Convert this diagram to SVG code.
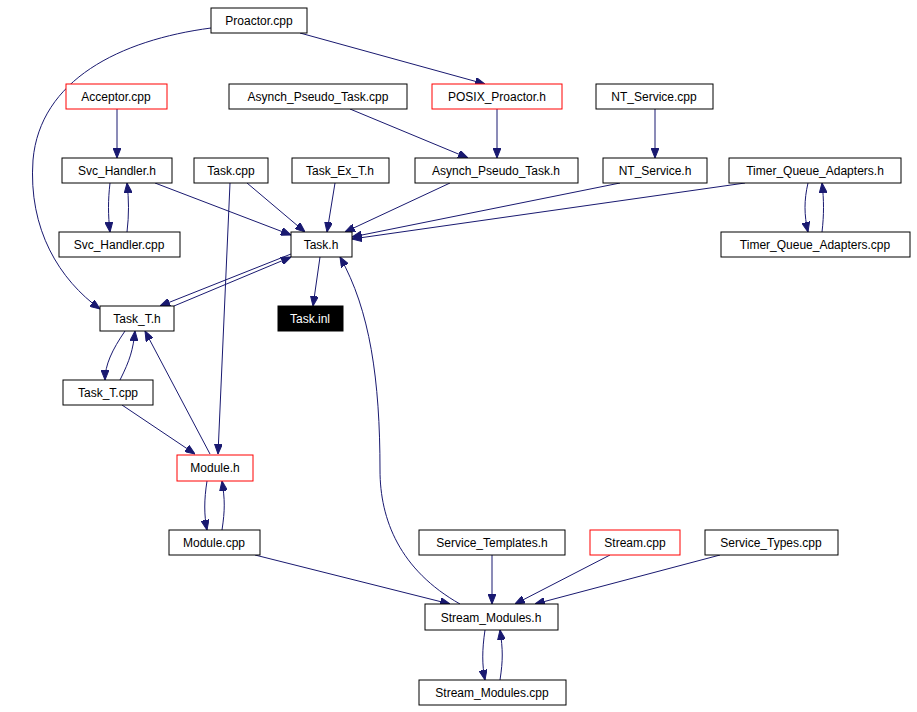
<svg xmlns="http://www.w3.org/2000/svg" width="917" height="712" viewBox="0 0 917 712">
<style>
.n rect{fill:#fff;stroke:#000;stroke-width:1}
.n.r rect{stroke:#f00}
.n text{font-family:"Liberation Sans",Arial,sans-serif;font-size:12px;text-anchor:middle;fill:#000}
.n.b rect{fill:#000}
.n.b text{fill:#fff}
#edges path{fill:none;stroke:#191970;stroke-width:1;marker-end:url(#a)}
</style>
<defs><marker id="a" viewBox="0 0 10 8" refX="10" refY="4" markerWidth="10" markerHeight="8" markerUnits="userSpaceOnUse" orient="auto"><path d="M0,0L10,4L0,8z" fill="#191970" stroke="#191970"/></marker></defs>
<rect width="917" height="712" fill="#fff"/>
<g id="edges">
<path d="M211,28 C120,40 40,80 33,160 C28,230 60,280 100,309"/>
<path d="M300,33 L485,84"/>
<path d="M117,109 L117,158"/>
<path d="M350,109 L468,158"/>
<path d="M497,109 L497,158"/>
<path d="M655,109 L655,158"/>
<path d="M155,183 L291,235"/>
<path d="M110,183 C108,200 108,215 110,232"/>
<path d="M127,232 C129,215 129,200 127,183"/>
<path d="M247,183 L305,232"/>
<path d="M230,183 L218,454"/>
<path d="M335,183 L327,232"/>
<path d="M450,183 L345,232"/>
<path d="M620,183 L352,237"/>
<path d="M745,183 L352,239"/>
<path d="M808,183 C804,200 804,215 808,232"/>
<path d="M822,232 C824,215 824,200 822,183"/>
<path d="M291,254 L160,306"/>
<path d="M174,306 L291,257"/>
<path d="M320,257 L313,306"/>
<path d="M125,331 C112,350 105,365 105,380"/>
<path d="M120,380 C130,360 133,350 135,331"/>
<path d="M122,405 L195,454"/>
<path d="M210,454 L145,331"/>
<path d="M207,481 C204,500 204,515 207,530"/>
<path d="M222,530 C225,510 225,500 222,481"/>
<path d="M255,555 L450,604"/>
<path d="M460,604 C400,570 380,520 380,470 C380,380 370,310 340,257"/>
<path d="M492,555 L492,604"/>
<path d="M610,555 L515,604"/>
<path d="M720,555 L535,604"/>
<path d="M485,630 C482,650 482,665 485,680"/>
<path d="M500,680 C503,660 503,650 500,630"/>
</g>
<g id="n1" class="n"><rect x="211" y="8" width="96" height="25"/><text x="259" y="25">Proactor.cpp</text></g>
<g id="n2" class="n r"><rect x="66" y="84" width="101" height="25"/><text x="116" y="101">Acceptor.cpp</text></g>
<g id="n3" class="n"><rect x="229" y="84" width="178" height="25"/><text x="318" y="101">Asynch_Pseudo_Task.cpp</text></g>
<g id="n4" class="n r"><rect x="432" y="84" width="130" height="25"/><text x="497" y="101">POSIX_Proactor.h</text></g>
<g id="n5" class="n"><rect x="596" y="84" width="117" height="25"/><text x="654" y="101">NT_Service.cpp</text></g>
<g id="n6" class="n"><rect x="62" y="158" width="110" height="25"/><text x="117" y="175">Svc_Handler.h</text></g>
<g id="n7" class="n"><rect x="194" y="158" width="74" height="25"/><text x="231" y="175">Task.cpp</text></g>
<g id="n8" class="n"><rect x="292" y="158" width="97" height="25"/><text x="340" y="175">Task_Ex_T.h</text></g>
<g id="n9" class="n"><rect x="415" y="158" width="163" height="25"/><text x="496" y="175">Asynch_Pseudo_Task.h</text></g>
<g id="n10" class="n"><rect x="603" y="158" width="104" height="25"/><text x="655" y="175">NT_Service.h</text></g>
<g id="n11" class="n"><rect x="729" y="158" width="172" height="25"/><text x="815" y="175">Timer_Queue_Adapters.h</text></g>
<g id="n12" class="n"><rect x="59" y="232" width="121" height="25"/><text x="119" y="249">Svc_Handler.cpp</text></g>
<g id="n13" class="n"><rect x="291" y="232" width="61" height="25"/><text x="321" y="249">Task.h</text></g>
<g id="n14" class="n"><rect x="721" y="232" width="189" height="25"/><text x="815" y="249">Timer_Queue_Adapters.cpp</text></g>
<g id="n15" class="n"><rect x="100" y="306" width="74" height="25"/><text x="137" y="323">Task_T.h</text></g>
<g id="n16" class="n b"><rect x="278" y="306" width="65" height="25"/><text x="310" y="323">Task.inl</text></g>
<g id="n17" class="n"><rect x="63" y="380" width="90" height="25"/><text x="108" y="397">Task_T.cpp</text></g>
<g id="n18" class="n r"><rect x="177" y="455" width="76" height="26"/><text x="215" y="472">Module.h</text></g>
<g id="n19" class="n"><rect x="169" y="530" width="91" height="25"/><text x="214" y="547">Module.cpp</text></g>
<g id="n20" class="n"><rect x="419" y="530" width="146" height="25"/><text x="492" y="547">Service_Templates.h</text></g>
<g id="n21" class="n r"><rect x="590" y="530" width="90" height="25"/><text x="635" y="547">Stream.cpp</text></g>
<g id="n22" class="n"><rect x="705" y="530" width="133" height="25"/><text x="771" y="547">Service_Types.cpp</text></g>
<g id="n23" class="n"><rect x="425" y="604" width="133" height="26"/><text x="491" y="622">Stream_Modules.h</text></g>
<g id="n24" class="n"><rect x="419" y="680" width="147" height="25"/><text x="492" y="697">Stream_Modules.cpp</text></g>
</svg>
